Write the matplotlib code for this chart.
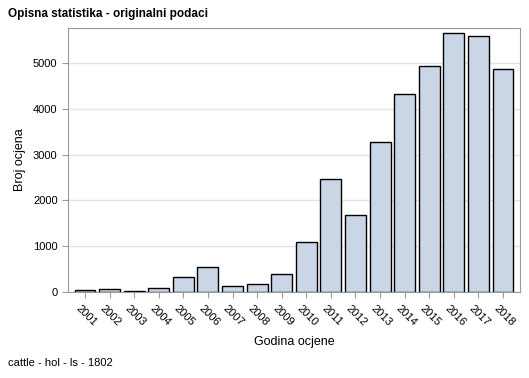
import matplotlib.pyplot as plt
from matplotlib.transforms import ScaledTranslation

plt.rcParams['font.family'] = ['Liberation Sans', 'DejaVu Sans']

# podaci
godine = [str(g) for g in range(2001, 2019)]
broj = [37, 59, 15, 81, 321, 539, 124, 168, 390, 1092, 2460, 1674,
        3268, 4316, 4928, 5648, 5590, 4862]

fig = plt.figure(figsize=(5.29, 3.78), dpi=100)
ax = fig.add_axes([68 / 529, 1 - 292 / 378, (520 - 68) / 529, (292 - 28) / 378])

x = range(len(godine))
ax.bar(x, broj, width=0.85, color='#CAD5E5', edgecolor='black', linewidth=1, zorder=3)

ax.set_xlim(-0.69, len(godine) - 1 + 0.69)
ax.set_ylim(0, 5765)
ax.set_yticks([0, 1000, 2000, 3000, 4000, 5000])
ax.set_xticks(list(x))
ax.set_xticklabels(godine, rotation=-45, ha='left', va='top', rotation_mode='anchor')
ax.tick_params(axis='x', labelsize=8, color='#9a9a9a', length=4, pad=4)
ax.tick_params(axis='y', labelsize=8, color='#9a9a9a', length=4)
# pomak oznaka malo ulijevo
pomak = ScaledTranslation(-4 / 100, 0, fig.dpi_scale_trans)
for lbl in ax.get_xticklabels():
    lbl.set_transform(lbl.get_transform() + pomak)

ax.grid(axis='y', color='#e4e4e4', linewidth=1, zorder=0)
for s in ax.spines.values():
    s.set_color('#9a9a9a')

ax.set_xlabel('Godina ocjene', fontsize=9, labelpad=6)
ax.set_ylabel('Broj ocjena', fontsize=9, labelpad=5)

fig.text(8 / 529, 1 - 14 / 378, 'Opisna statistika - originalni podaci',
         fontsize=8.5, fontweight='bold', va='center', ha='left')
fig.text(8 / 529, 1 - 363 / 378, 'cattle - hol - ls - 1802', fontsize=8, va='center', ha='left')

plt.savefig('out.png', dpi=100)
